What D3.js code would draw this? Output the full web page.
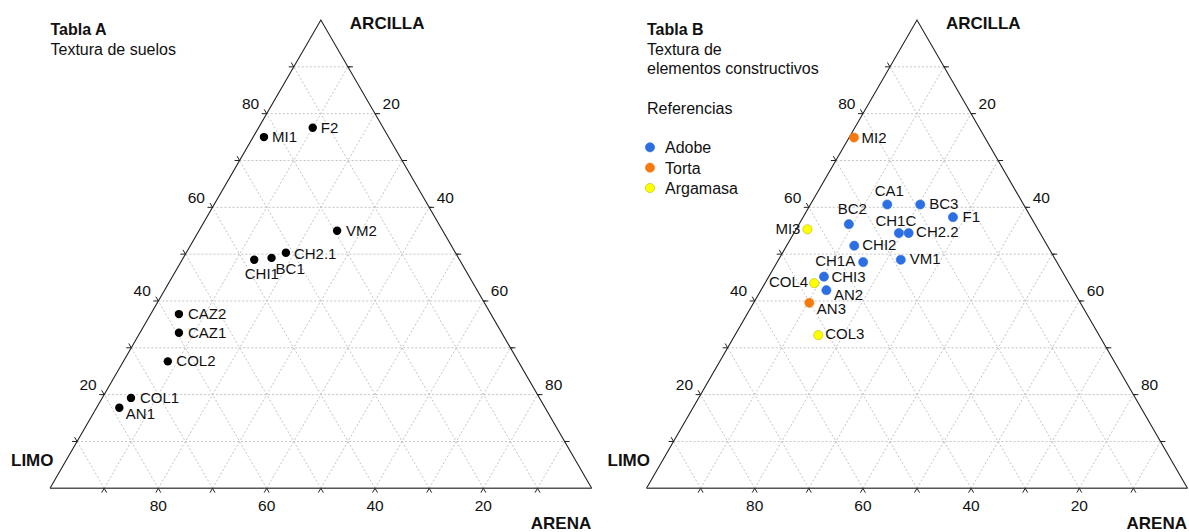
<!DOCTYPE html>
<html>
<head>
<meta charset="utf-8">
<script src="https://cdn.jsdelivr.net/npm/d3@7"></script>
<style>
  html, body { margin: 0; padding: 0; background: #fff; }
  svg { display: block; font-family: "Liberation Sans", Arial, sans-serif; }
</style>
</head>
<body>
<svg id="chart" width="1189" height="532"></svg>
<script>
// ---------- DATA ----------
const vertexLabels = ["ARCILLA", "LIMO", "ARENA"];
const gridValues = [10, 20, 30, 40, 50, 60, 70, 80, 90];
const tickLabelValues = [20, 40, 60, 80];

// Tabla A: textura de suelos
const tablaATitle = "Tabla A";
const tablaASubtitle = ["Textura de suelos"];
const tablaANames   = ["MI1", "F2", "VM2", "CH2.1", "BC1", "CHI1", "CAZ2", "CAZ1", "COL2", "COL1", "AN1"];
const tablaAArcilla = [75.0, 77.0, 55.0, 50.3, 49.2, 48.8, 37.2, 33.2, 27.1, 19.3, 17.2];
const tablaALimo    = [23.0, 13.0, 19.5, 31.3, 34.5, 37.9, 57.6, 59.6, 64.7, 75.4, 78.6];
const tablaAArena   = [ 2.0, 10.0, 25.5, 18.4, 16.3, 13.3,  5.2,  7.2,  8.2,  5.3,  4.2];

// Tabla B: textura de elementos constructivos
const tablaBTitle = "Tabla B";
const tablaBSubtitle = ["Textura de", "elementos constructivos"];
const legendTitle = "Referencias";
const materialTypes = ["Adobe", "Torta", "Argamasa"];
const tablaBNames   = ["MI2", "CA1", "BC3", "F1", "BC2", "MI3", "CH1C", "CH2.2", "CHI2", "CH1A", "VM1", "CHI3", "COL4", "AN2", "AN3", "COL3"];
const tablaBArcilla = [74.9, 60.6, 60.6, 57.9, 56.4, 55.3, 54.5, 54.5, 51.8, 48.3, 48.8, 45.2, 43.8, 42.3, 39.6, 32.7];
const tablaBLimo    = [24.2, 25.2, 19.1, 14.4, 34.4, 42.6, 26.1, 24.3, 35.7, 35.8, 28.6, 44.6, 47.1, 45.6, 50.1, 51.9];
const tablaBArena   = [ 0.9, 14.2, 20.3, 27.7,  9.2,  2.1, 19.4, 21.2, 12.5, 15.9, 22.6, 10.2,  9.1, 12.1, 10.3, 15.4];
const tablaBType    = ["Torta", "Adobe", "Adobe", "Adobe", "Adobe", "Argamasa", "Adobe", "Adobe", "Adobe", "Adobe", "Adobe", "Adobe", "Argamasa", "Adobe", "Torta", "Argamasa"];

// ---------- STYLE / LAYOUT ----------
const typeColor = d3.scaleOrdinal().domain(materialTypes).range(["#2b6fe3", "#f77a10", "#ffff00"]);
const typeStroke = d3.scaleOrdinal().domain(materialTypes).range(["#2b6fe3", "#f77a10", "#b8b800"]);

// label placement (layout, not data)
const labelPlace = {
  "MI1": [8, 5, "start"], "F2": [8, 5, "start"], "VM2": [9, 5, "start"], "CH2.1": [8, 6, "start"],
  "BC1": [4, 16.5, "start"], "CHI1": [-9.5, 19.5, "start"], "CAZ2": [9, 5, "start"], "CAZ1": [9, 5, "start"],
  "COL2": [8.5, 5, "start"], "COL1": [9, 5, "start"], "AN1": [6.5, 11, "start"],
  "MI2": [7.5, 5, "start"], "CA1": [2, -9, "middle"], "BC3": [9, 4.5, "start"], "F1": [9.5, 5, "start"],
  "BC2": [3.5, -10, "middle"], "MI3": [-7, 4.5, "end"], "CH1C": [-3, -7, "middle"], "CH2.2": [7.5, 4, "start"],
  "CHI2": [8, 4, "start"], "CH1A": [-8, 3.5, "end"], "VM1": [9, 4.5, "start"], "CHI3": [7.5, 5.5, "start"],
  "COL4": [-6, 3.5, "end"], "AN2": [7.5, 9.5, "start"], "AN3": [7.5, 11.5, "start"], "COL3": [7, 3.5, "start"]
};

const svg = d3.select("#chart");

function drawTernary(cfg) {
  const g = svg.append("g");
  const x = d3.scaleLinear().domain([0, 100]).range([cfg.left, cfg.right]);
  const y = d3.scaleLinear().domain([0, 100]).range([cfg.bottom, cfg.top]);
  // point from (arcilla, limo, arena)
  const P = (a, l, s) => {
    const t = a + l + s;
    a = a / t * 100; s = s / t * 100;
    return [x(s + a / 2), y(a)];
  };
  const line = d3.line();

  // grid
  const gridG = g.append("g").attr("fill", "none").attr("stroke", "#c4c4c4")
    .attr("stroke-width", 1).attr("stroke-dasharray", "2,2");
  gridValues.forEach(v => {
    gridG.append("path").attr("d", line([P(v, 100 - v, 0), P(v, 0, 100 - v)]));   // arcilla const
    gridG.append("path").attr("d", line([P(0, 100 - v, v), P(100 - v, 0, v)]));   // arena const
    gridG.append("path").attr("d", line([P(0, v, 100 - v), P(100 - v, v, 0)]));   // limo const
  });

  // triangle
  const A = P(100, 0, 0), L = P(0, 100, 0), R = P(0, 0, 100);
  g.append("path").attr("d", line([L, A, R]) ).attr("fill", "none").attr("stroke", "#222").attr("stroke-width", 1.1);
  g.append("path").attr("d", line([L, R])).attr("fill", "none").attr("stroke", "#555").attr("stroke-width", 1.6);

  // ticks
  const tl = 5, c60 = 0.5, s60 = Math.sqrt(3) / 2;
  const tickG = g.append("g").attr("stroke", "#222").attr("stroke-width", 1).attr("fill", "none");
  gridValues.forEach(v => {
    const pl = P(v, 100 - v, 0);
    tickG.append("path").attr("d", line([[pl[0] - tl, pl[1]], pl, [pl[0] - c60 * tl, pl[1] - s60 * tl]]));
    const pr = P(100 - v, 0, v);
    tickG.append("path").attr("d", line([[pr[0] + tl, pr[1]], pr, [pr[0] + c60 * tl, pr[1] + s60 * tl * 0]]));
    const pb = P(0, v, 100 - v);
    tickG.append("path").attr("d", line([[pb[0] - c60 * tl, pb[1] + s60 * tl], pb, [pb[0] + c60 * tl, pb[1] + s60 * tl]]));
  });

  // tick labels
  const tlG = g.append("g").attr("font-size", "15.5px").attr("fill", "#111");
  tickLabelValues.forEach(v => {
    const pl = P(v, 100 - v, 0);
    tlG.append("text").attr("x", pl[0] - 7.5).attr("y", pl[1] - 4.5).attr("text-anchor", "end").text(v);
    const pr = P(100 - v, 0, v);
    tlG.append("text").attr("x", pr[0] + 7.5).attr("y", pr[1] - 4.5).attr("text-anchor", "start").text(v);
    const pb = P(0, v, 100 - v);
    tlG.append("text").attr("x", pb[0]).attr("y", pb[1] + 22.5).attr("text-anchor", "middle").text(v);
  });

  // vertex labels
  const vG = g.append("g").attr("font-size", "17px").attr("font-weight", "bold").attr("fill", "#111");
  vG.append("text").attr("x", A[0] + 29).attr("y", A[1] + 8.5).attr("text-anchor", "start").text(vertexLabels[0]);
  vG.append("text").attr("x", L[0] + 3.5).attr("y", L[1] - 22).attr("text-anchor", "end").text(vertexLabels[1]);
  vG.append("text").attr("x", R[0] - 0.5).attr("y", R[1] + 40.5).attr("text-anchor", "end").text(vertexLabels[2]);

  // titles
  const tG = g.append("g").attr("fill", "#111").attr("font-size", "16px");
  tG.append("text").attr("x", cfg.left + 0.5).attr("y", 34.5).attr("font-weight", "bold").text(cfg.title);
  cfg.subtitle.forEach((s, i) => {
    tG.append("text").attr("x", cfg.left + 0.5).attr("y", 54.5 + i * 19.5).text(s);
  });

  // points
  const pts = cfg.names.map((n, i) => ({
    name: n, p: P(cfg.arcilla[i], cfg.limo[i], cfg.arena[i]), type: cfg.types ? cfg.types[i] : null
  }));
  const pG = g.append("g");
  pG.selectAll("circle").data(pts).join("circle")
    .attr("cx", d => d.p[0]).attr("cy", d => d.p[1]).attr("r", cfg.r)
    .attr("fill", d => d.type ? typeColor(d.type) : "#000")
    .attr("stroke", d => d.type ? typeStroke(d.type) : "#000")
    .attr("stroke-width", d => d.type ? 0.6 : 0);
  pG.selectAll("text").data(pts).join("text")
    .attr("x", d => d.p[0] + labelPlace[d.name][0])
    .attr("y", d => d.p[1] + labelPlace[d.name][1])
    .attr("text-anchor", d => labelPlace[d.name][2])
    .attr("font-size", "15px").attr("fill", "#111")
    .text(d => d.name);
  return g;
}

drawTernary({
  left: 50, right: 591.7, top: 20, bottom: 488.3, r: 4.2,
  title: tablaATitle, subtitle: tablaASubtitle,
  names: tablaANames, arcilla: tablaAArcilla, limo: tablaALimo, arena: tablaAArena
});
const gB = drawTernary({
  left: 646.5, right: 1187.5, top: 20, bottom: 488.3, r: 4.6,
  title: tablaBTitle, subtitle: tablaBSubtitle,
  names: tablaBNames, arcilla: tablaBArcilla, limo: tablaBLimo, arena: tablaBArena, types: tablaBType
});

// legend
const lg = svg.append("g").attr("font-size", "16px").attr("fill", "#111");
lg.append("text").attr("x", 647).attr("y", 113.5).text(legendTitle);
const ly = d3.scalePoint().domain(materialTypes).range([147.3, 188]);
materialTypes.forEach(t => {
  lg.append("circle").attr("cx", 650).attr("cy", ly(t)).attr("r", 4.6)
    .attr("fill", typeColor(t)).attr("stroke", typeStroke(t)).attr("stroke-width", 0.6);
  lg.append("text").attr("x", 665).attr("y", ly(t) + 6).text(t);
});
</script>
</body>
</html>
